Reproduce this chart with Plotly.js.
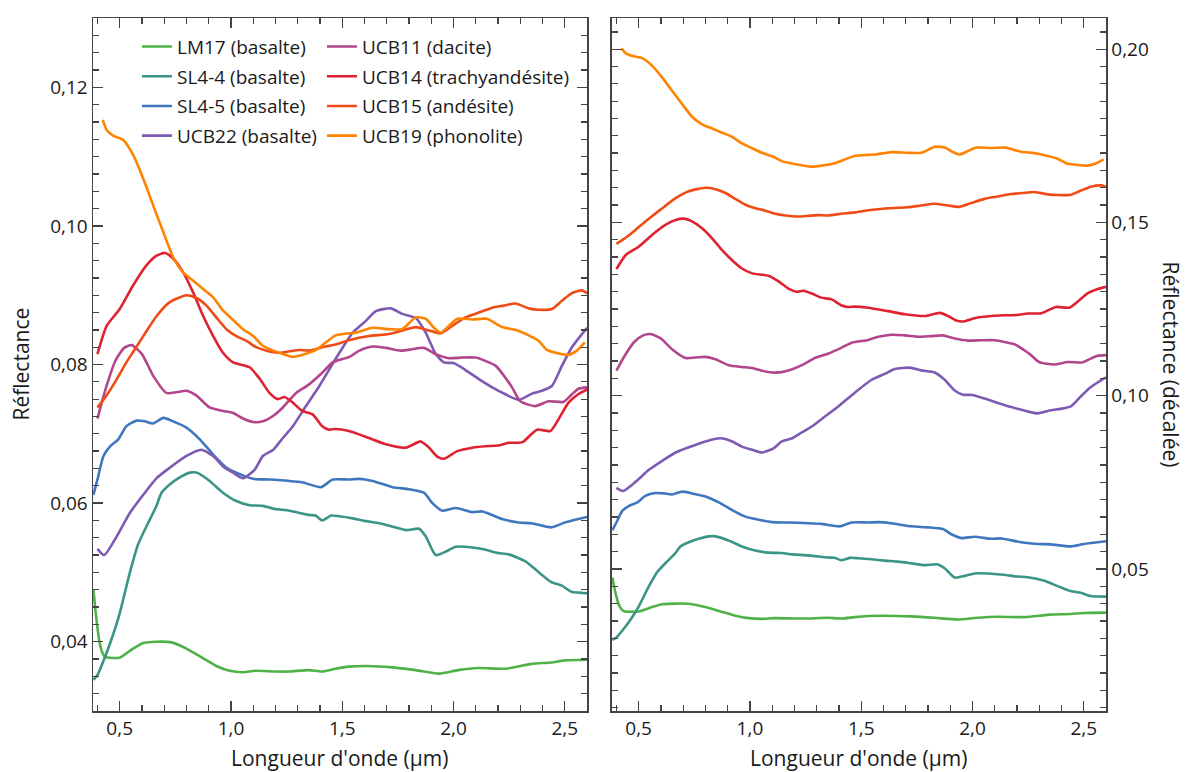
<!DOCTYPE html>
<html><head><meta charset="utf-8">
<script src="https://cdn.plot.ly/plotly-3.0.1.min.js"></script>
<style>body{margin:0;background:#fff;} #chart{width:1186px;height:772px;}</style>
</head><body><div id="chart"></div>
<script>
// Series labels, colours and vertical offsets used in the right ("décalée") panel
const names = ['LM17 (basalte)','SL4-4 (basalte)','SL4-5 (basalte)','UCB22 (basalte)',
               'UCB11 (dacite)','UCB14 (trachyandésite)','UCB15 (andésite)','UCB19 (phonolite)'];
const colors = ['#4fb248','#3a9586','#3f77bf','#7d5bb3','#b2468c','#de2231','#f04b16','#ff8300'];
const offsets = [0, -0.005, 0, 0.02, 0.035, 0.055, 0.07, 0.085];

// Wavelengths (µm) and reflectance values
const lm17_x = [0.382,0.39,0.40,0.41,0.42,0.434,0.50,0.56,0.606,0.665,0.733,0.80,0.875,0.934,0.994,1.054,1.11,1.20,1.26,1.35,1.41,1.47,1.53,1.606,1.726,1.83,1.935,2.02,2.114,2.233,2.35,2.44,2.50,2.60];
const lm17_y = [0.0475,0.0448,0.0420,0.0398,0.0386,0.0378,0.0377,0.0390,0.0398,0.0400,0.0399,0.0390,0.0376,0.0365,0.0358,0.0356,0.0358,0.0357,0.0357,0.0359,0.0357,0.0361,0.0364,0.0365,0.0363,0.0359,0.0354,0.0359,0.0362,0.0361,0.0368,0.0370,0.0373,0.0374];

const sl44_x = [0.382,0.40,0.44,0.47,0.50,0.545,0.582,0.627,0.664,0.688,0.725,0.77,0.815,0.845,0.904,0.964,1.024,1.084,1.143,1.19,1.263,1.35,1.38,1.41,1.45,1.487,1.547,1.606,1.666,1.726,1.786,1.845,1.875,1.92,1.965,2.01,2.084,2.14,2.20,2.248,2.323,2.38,2.44,2.487,2.53,2.60];
const sl44_y = [0.0345,0.0352,0.0383,0.0410,0.0441,0.0499,0.0540,0.0571,0.0595,0.0615,0.0627,0.0637,0.0644,0.0644,0.0632,0.0615,0.0603,0.0597,0.0596,0.0592,0.0589,0.0583,0.0582,0.0575,0.0582,0.0581,0.0578,0.0574,0.0571,0.0566,0.0561,0.0563,0.0552,0.0525,0.0530,0.0537,0.0536,0.0533,0.0528,0.0526,0.0516,0.0501,0.0486,0.0481,0.0472,0.0470];

const sl45_x = [0.382,0.40,0.427,0.457,0.494,0.53,0.576,0.613,0.65,0.696,0.74,0.80,0.86,0.92,0.98,1.024,1.10,1.173,1.263,1.32,1.405,1.457,1.53,1.577,1.636,1.726,1.80,1.867,1.905,1.95,2.01,2.084,2.13,2.218,2.293,2.35,2.44,2.50,2.60];
const sl45_y = [0.0612,0.0634,0.0668,0.0682,0.0692,0.0711,0.0719,0.0718,0.0715,0.0723,0.0718,0.0709,0.0692,0.0670,0.0651,0.0644,0.0635,0.0634,0.0632,0.0630,0.0623,0.0634,0.0634,0.0635,0.0632,0.0623,0.0620,0.0615,0.0600,0.0589,0.0593,0.0587,0.0588,0.0577,0.0572,0.0571,0.0565,0.0572,0.0580];

const ucb22_x = [0.40,0.43,0.487,0.546,0.606,0.666,0.725,0.80,0.867,0.92,0.964,1.01,1.054,1.106,1.143,1.19,1.233,1.278,1.337,1.397,1.47,1.547,1.606,1.651,1.718,1.77,1.83,1.875,1.92,1.957,2.0,2.054,2.114,2.174,2.233,2.293,2.353,2.397,2.442,2.487,2.532,2.60];
const ucb22_y = [0.0534,0.0525,0.0552,0.0586,0.0612,0.0636,0.0651,0.0668,0.0677,0.0668,0.0653,0.0644,0.0636,0.0648,0.0668,0.0677,0.0694,0.0711,0.0740,0.0769,0.0808,0.0846,0.0863,0.0877,0.0881,0.0873,0.0867,0.0846,0.0815,0.0803,0.0802,0.0792,0.0779,0.0767,0.0757,0.0749,0.0758,0.0762,0.0769,0.0798,0.0825,0.0853];

const ucb11_x = [0.40,0.44,0.48,0.52,0.554,0.60,0.65,0.71,0.755,0.80,0.845,0.904,0.964,1.01,1.054,1.10,1.143,1.19,1.233,1.293,1.35,1.41,1.457,1.532,1.577,1.636,1.696,1.763,1.815,1.867,1.92,1.98,2.04,2.10,2.144,2.19,2.233,2.263,2.30,2.367,2.427,2.494,2.532,2.562,2.60];
const ucb11_y = [0.0722,0.0768,0.0805,0.0824,0.0828,0.0815,0.0784,0.0759,0.0760,0.0762,0.0755,0.0738,0.0733,0.0730,0.0722,0.0717,0.0718,0.0726,0.0738,0.0759,0.0771,0.0788,0.0803,0.0811,0.0820,0.0826,0.0824,0.0820,0.0822,0.0824,0.0815,0.0809,0.0810,0.0810,0.0805,0.0798,0.0781,0.0767,0.0747,0.0740,0.0747,0.0746,0.0757,0.0765,0.0767];

const ucb14_x = [0.40,0.442,0.50,0.56,0.62,0.666,0.703,0.74,0.785,0.83,0.875,0.92,0.964,1.01,1.084,1.13,1.173,1.21,1.24,1.278,1.32,1.367,1.41,1.44,1.47,1.53,1.62,1.696,1.786,1.853,1.89,1.927,1.957,2.017,2.084,2.144,2.20,2.248,2.31,2.375,2.435,2.472,2.517,2.56,2.60];
const ucb14_y = [0.0815,0.0856,0.0880,0.0914,0.0943,0.0957,0.0961,0.0953,0.0933,0.0904,0.0870,0.0841,0.0817,0.0803,0.0796,0.0779,0.0759,0.0750,0.0753,0.0745,0.0733,0.0728,0.0711,0.0706,0.0707,0.0704,0.0694,0.0685,0.0680,0.0689,0.0680,0.0667,0.0664,0.0675,0.0680,0.0682,0.0683,0.0687,0.0688,0.0706,0.0704,0.0721,0.0745,0.0757,0.0764];

const ucb15_x = [0.40,0.44,0.487,0.53,0.56,0.606,0.666,0.725,0.80,0.845,0.89,0.934,0.98,1.024,1.07,1.113,1.16,1.218,1.263,1.307,1.352,1.41,1.47,1.53,1.62,1.71,1.77,1.83,1.89,1.942,1.995,2.054,2.114,2.174,2.226,2.278,2.338,2.383,2.442,2.487,2.532,2.577,2.60];
const ucb15_y = [0.0738,0.0755,0.0779,0.0803,0.0818,0.0841,0.0870,0.0890,0.0900,0.0896,0.0885,0.0868,0.0851,0.0841,0.0834,0.0825,0.0820,0.0817,0.0819,0.0821,0.0820,0.0825,0.0829,0.0835,0.0841,0.0844,0.0849,0.0854,0.0849,0.0845,0.0856,0.0868,0.0875,0.0882,0.0885,0.0888,0.0881,0.0879,0.0880,0.0892,0.0903,0.0907,0.0903];

const ucb19_x = [0.424,0.442,0.472,0.516,0.561,0.606,0.65,0.696,0.74,0.785,0.83,0.875,0.92,0.964,1.01,1.054,1.10,1.143,1.19,1.233,1.278,1.322,1.382,1.427,1.47,1.53,1.562,1.636,1.71,1.77,1.83,1.875,1.912,1.942,1.98,2.017,2.084,2.15,2.218,2.278,2.338,2.383,2.42,2.472,2.517,2.554,2.59];
const ucb19_y = [0.1153,0.1138,0.1130,0.1124,0.1102,0.1068,0.1030,0.0991,0.0955,0.0933,0.0921,0.0909,0.0897,0.0878,0.0864,0.0851,0.0841,0.0827,0.0820,0.0815,0.0811,0.0814,0.0821,0.0832,0.0842,0.0845,0.0846,0.0853,0.0851,0.0851,0.0868,0.0866,0.0853,0.0846,0.0856,0.0866,0.0865,0.0866,0.0854,0.0850,0.0842,0.0834,0.0821,0.0816,0.0814,0.0820,0.0832];

const xs = [lm17_x, sl44_x, sl45_x, ucb22_x, ucb11_x, ucb14_x, ucb15_x, ucb19_x];
const ys = [lm17_y, sl44_y, sl45_y, ucb22_y, ucb11_y, ucb14_y, ucb15_y, ucb19_y];

const FONT = '"Open Sans", "Noto Sans", sans-serif';
const TXT = '#1a1a1a';
const traces = [];
for (let i = 0; i < names.length; i++) {
  traces.push({
    x: xs[i], y: ys[i], type: 'scatter', mode: 'lines', name: names[i],
    line: {color: colors[i], width: 2.6, shape: 'spline', smoothing: 0.6},
    xaxis: 'x', yaxis: 'y', legend: i < 4 ? 'legend' : 'legend2',
    legendgroup: 'g' + i, hoverinfo: 'skip'
  });
}
for (let i = 0; i < names.length; i++) {
  traces.push({
    x: xs[i], y: ys[i].map(v => v + offsets[i]), type: 'scatter', mode: 'lines', name: names[i],
    line: {color: colors[i], width: 2.6, shape: 'spline', smoothing: 0.6},
    xaxis: 'x2', yaxis: 'y2', showlegend: false, hoverinfo: 'skip'
  });
}

const common = {
  showline: true, linecolor: '#444', linewidth: 1.5, mirror: 'allticks',
  ticks: 'inside', ticklen: 10, tickwidth: 1.3, tickcolor: '#444',
  showgrid: false, zeroline: false, tickfont: {size: 19, color: TXT, family: FONT}
};
const xminor = {dtick: 0.1, tick0: 0, ticks: 'inside', ticklen: 6, tickwidth: 1.3, tickcolor: '#444', showgrid: false};

const layout = {
  width: 1186, height: 772,
  margin: {l: 93, r: 80, t: 18, b: 61},
  paper_bgcolor: '#fff', plot_bgcolor: '#fff',
  font: {family: FONT, color: TXT, size: 19},
  separators: ', ',
  showlegend: true,
  xaxis: Object.assign({}, common, {domain: [0, 0.4877], range: [0.38, 2.6], dtick: 0.5, tick0: 0, tickformat: '.1f', anchor: 'y', minor: xminor}),
  xaxis2: Object.assign({}, common, {domain: [0.5123, 1], range: [0.38, 2.6], dtick: 0.5, tick0: 0, tickformat: '.1f', anchor: 'y2', minor: xminor}),
  yaxis: Object.assign({}, common, {range: [0.03, 0.13], dtick: 0.02, tick0: 0, tickformat: '.2f', anchor: 'x',
    minor: {dtick: 0.0025, tick0: 0, ticks: 'inside', ticklen: 6, tickwidth: 1.3, tickcolor: '#444', showgrid: false}}),
  yaxis2: Object.assign({}, common, {range: [0.009, 0.209], dtick: 0.05, tick0: 0, tickformat: '.2f', anchor: 'x2', side: 'right',
    minor: {dtick: 0.005, tick0: 0, ticks: 'inside', ticklen: 6, tickwidth: 1.3, tickcolor: '#444', showgrid: false}}),
  legend: {x: 0.0434, y: 0.986, xanchor: 'left', yanchor: 'top', bgcolor: 'rgba(0,0,0,0)', borderwidth: 0,
    font: {size: 19, family: FONT, color: TXT}, traceorder: 'grouped', tracegroupgap: 2},
  legend2: {x: 0.226, y: 0.986, xanchor: 'left', yanchor: 'top', bgcolor: 'rgba(0,0,0,0)', borderwidth: 0,
    font: {size: 19, family: FONT, color: TXT}, traceorder: 'grouped', tracegroupgap: 2},
  annotations: [
    {text: "Longueur d'onde (µm)", xref: 'paper', yref: 'paper', x: 0.2438, y: -0.0678, xanchor: 'center', yanchor: 'middle', showarrow: false, font: {size: 21, family: FONT, color: TXT}},
    {text: "Longueur d'onde (µm)", xref: 'paper', yref: 'paper', x: 0.7561, y: -0.0678, xanchor: 'center', yanchor: 'middle', showarrow: false, font: {size: 21, family: FONT, color: TXT}},
    {text: 'Réflectance', xref: 'paper', yref: 'paper', x: -0.072, y: 0.5, xanchor: 'center', yanchor: 'middle', textangle: -90, showarrow: false, font: {size: 21, family: FONT, color: TXT}},
    {text: 'Réflectance (décalée)', xref: 'paper', yref: 'paper', x: 1.0642, y: 0.5, xanchor: 'center', yanchor: 'middle', textangle: 90, showarrow: false, font: {size: 21, family: FONT, color: TXT}}
  ]
};

Plotly.newPlot('chart', traces, layout, {displayModeBar: false, staticPlot: true});
</script>
</body></html>
